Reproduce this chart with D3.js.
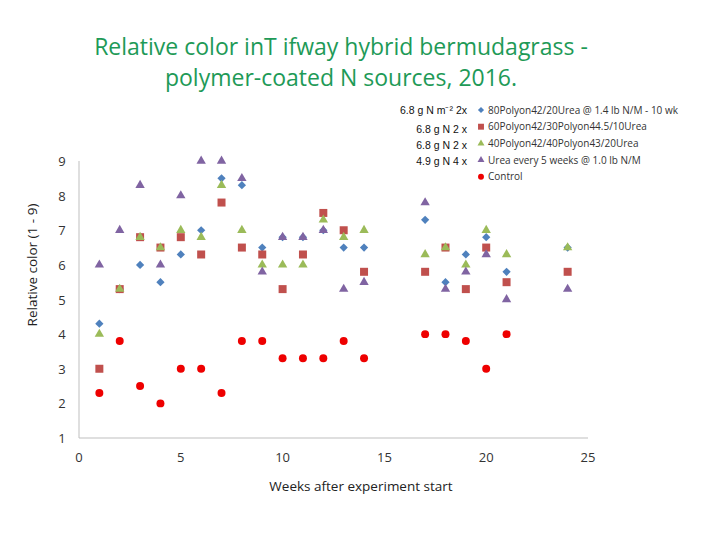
<!DOCTYPE html>
<html><head><meta charset="utf-8">
<script src="https://cdn.jsdelivr.net/npm/d3@7"></script>
<style>body{margin:0;background:#fff}svg{display:block}</style>
</head><body>
<svg id="c" width="720" height="540"></svg>
<script>
const weeks = [1,2,3,4,5,6,7,8,9,10,11,12,13,14,17,18,19,20,21,24];
const polyon80 = [4.3,5.3,6.0,5.5,6.3,7.0,8.5,8.3,6.5,6.8,6.8,7.0,6.5,6.5,7.3,5.5,6.3,6.8,5.8,6.5];
const polyon60 = [3.0,5.3,6.8,6.5,6.8,6.3,7.8,6.5,6.3,5.3,6.3,7.5,7.0,5.8,5.8,6.5,5.3,6.5,5.5,5.8];
const polyon40 = [4.0,5.3,6.8,6.5,7.0,6.8,8.3,7.0,6.0,6.0,6.0,7.3,6.8,7.0,6.3,6.5,6.0,7.0,6.3,6.5];
const urea5wk  = [6.0,7.0,8.3,6.0,8.0,9.0,9.0,8.5,5.8,6.8,6.8,7.0,5.3,5.5,7.8,5.3,5.8,6.3,5.0,5.3];
const control  = [2.3,3.8,2.5,2.0,3.0,3.0,2.3,3.8,3.8,3.3,3.3,3.3,3.8,3.3,4.0,4.0,3.8,3.0,4.0,null];
const seriesNames = ["80Polyon42/20Urea @ 1.4 lb N/M - 10 wk","60Polyon42/30Polyon44.5/10Urea","40Polyon42/40Polyon43/20Urea","Urea every 5 weeks @ 1.0 lb N/M","Control"];
const rateNotes = ["6.8 g N m\u207B\u00B2 2x","6.8 g N 2 x","6.8 g N 2 x","4.9 g N 4 x"];
const xTicks = [0,5,10,15,20,25];
const yTicks = [1,2,3,4,5,6,7,8,9];
const titleLines = ["Relative color inT ifway hybrid bermudagrass -","polymer-coated N sources, 2016."];

const seriesValues = [polyon80, polyon60, polyon40, urea5wk, control];
const colors = ["#4f81bd","#c0504d","#9bbb59","#8064a2","#ee0000"];
const shapes = [
  {t:d3.symbolSquare, s:34, rot:45},
  {t:d3.symbolSquare, s:64, rot:0},
  {t:d3.symbolTriangle, s:38, rot:0},
  {t:d3.symbolTriangle, s:38, rot:0},
  {t:d3.symbolCircle, s:50, rot:0}
];

const svg = d3.select("#c");
const x = d3.scaleLinear().domain([0,25]).range([79,588]);
const y = d3.scaleLinear().domain([1,9]).range([438,161]);

// title
svg.append("g").selectAll("text").data(titleLines).join("text")
  .attr("x",341).attr("y",(d,i)=>55+i*31)
  .attr("text-anchor","middle")
  .attr("font-family","'Open Sans', sans-serif").attr("font-size",23)
  .attr("fill","#1e9a57").text(d=>d);

// axes lines
svg.append("line").attr("x1",x(0)).attr("x2",x(0)).attr("y1",y(9)).attr("y2",y(1)).attr("stroke","#bfbfbf");
svg.append("line").attr("x1",x(0)).attr("x2",x(25)).attr("y1",y(1)).attr("y2",y(1)).attr("stroke","#bfbfbf");

const fontAx = "'Open Sans', sans-serif";
svg.append("g").selectAll("text").data(yTicks).join("text")
  .attr("x",62).attr("y",d=>y(d)+5).attr("text-anchor","middle")
  .attr("font-family",fontAx).attr("font-size",13).attr("fill","#333").text(d=>d);
svg.append("g").selectAll("text").data(xTicks).join("text")
  .attr("x",d=>x(d)).attr("y",462).attr("text-anchor","middle")
  .attr("font-family",fontAx).attr("font-size",13).attr("fill","#333").text(d=>d);

svg.append("text").attr("x",361).attr("y",491).attr("text-anchor","middle")
  .attr("font-family",fontAx).attr("font-size",13.5).attr("fill","#222").text("Weeks after experiment start");
svg.append("text").attr("transform","translate(37,265) rotate(-90)").attr("text-anchor","middle")
  .attr("font-family",fontAx).attr("font-size",13.5).attr("fill","#222").text("Relative color (1 - 9)");

// points
seriesValues.forEach((vals,si)=>{
  const sh = shapes[si];
  const sym = d3.symbol().type(sh.t).size(sh.s);
  svg.append("g").selectAll("path").data(weeks.map((w,i)=>({w,v:vals[i]})).filter(d=>d.v!=null)).join("path")
    .attr("d",sym)
    .attr("transform",d=>`translate(${x(d.w)},${y(d.v)}) rotate(${sh.rot})`)
    .attr("fill",colors[si]);
});

// legend
const lg = svg.append("g");
seriesNames.forEach((n,i)=>{
  const yy = 110 + i*16.7;
  const sh = shapes[i];
  const sc = 0.55;
  lg.append("path").attr("d",d3.symbol().type(sh.t).size(sh.s*sc)())
    .attr("transform",`translate(481,${yy}) rotate(${sh.rot})`).attr("fill",colors[i]);
  lg.append("text").attr("x",488).attr("y",yy+3.5)
    .attr("font-family",fontAx).attr("font-size",10).attr("fill","#333").text(n);
});
rateNotes.forEach((n,i)=>{
  svg.append("text").attr("x",467).attr("y",[114,133,148.5,164.5][i])
    .attr("text-anchor","end").attr("font-family","'Liberation Sans', Arial, sans-serif")
    .attr("font-size",10.5).attr("fill","#111").text(n);
});
</script>
</body></html>
